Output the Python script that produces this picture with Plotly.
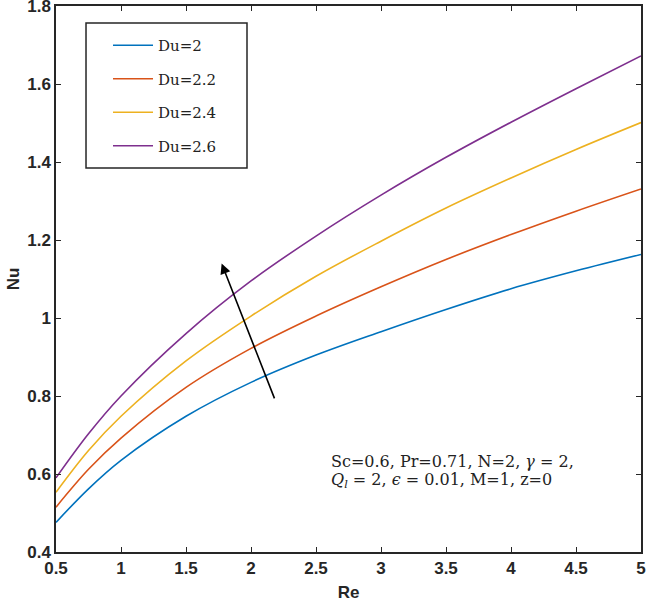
import plotly.graph_objects as go

re_vals = [0.5, 0.75, 1.0, 1.5, 2.0, 2.5, 3.0, 3.5, 4.0, 4.5, 5.0]
nu_du20 = [0.476, 0.562, 0.635, 0.748, 0.835, 0.905, 0.965, 1.022, 1.075, 1.121, 1.163]
nu_du22 = [0.515, 0.612, 0.692, 0.822, 0.922, 1.005, 1.080, 1.150, 1.214, 1.274, 1.331]
nu_du24 = [0.553, 0.660, 0.748, 0.890, 1.005, 1.107, 1.197, 1.282, 1.359, 1.432, 1.501]
nu_du26 = [0.590, 0.703, 0.800, 0.960, 1.095, 1.210, 1.315, 1.412, 1.502, 1.588, 1.672]

series_names = ["Du=2", "Du=2.2", "Du=2.4", "Du=2.6"]
series_colors = ["#0072BD", "#D95319", "#EDB120", "#7E2F8E"]
series_values = [nu_du20, nu_du22, nu_du24, nu_du26]

x_ticks = [0.5, 1, 1.5, 2, 2.5, 3, 3.5, 4, 4.5, 5]
x_tick_text = ["0.5", "1", "1.5", "2", "2.5", "3", "3.5", "4", "4.5", "5"]
y_ticks = [0.4, 0.6, 0.8, 1.0, 1.2, 1.4, 1.6, 1.8]
y_tick_text = ["0.4", "0.6", "0.8", "1", "1.2", "1.4", "1.6", "1.8"]

arrow_tail = (2.185, 0.790)
arrow_head = (1.774, 1.140)

fig = go.Figure()
for i, (name, color, vals) in enumerate(zip(series_names, series_colors, series_values)):
    fig.add_trace(go.Scatter(
        x=re_vals, y=vals, mode="lines", name=name,
        line=dict(color=color, width=1.6, shape="spline", smoothing=1.0),
        legendgroup=f"g{i}",
    ))

fig.add_annotation(
    x=arrow_head[0], y=arrow_head[1], ax=arrow_tail[0], ay=arrow_tail[1],
    xref="x", yref="y", axref="x", ayref="y",
    showarrow=True, arrowhead=2, arrowsize=1.3, arrowwidth=1.6, arrowcolor="black", text="",
)

note_font = dict(family="DejaVu Serif", size=16, color="#222")
fig.add_annotation(
    x=2.6, y=0.632, xref="x", yref="y", xanchor="left", yanchor="middle",
    text="Sc=0.6, Pr=0.71, N=2, <i>γ</i> = 2,",
    showarrow=False, font=note_font,
)
fig.add_annotation(
    x=2.6, y=0.584, xref="x", yref="y", xanchor="left", yanchor="middle",
    text="<i>Q<sub>l</sub></i> = 2, <i>ϵ</i> = 0.01, M=1, z=0",
    showarrow=False, font=note_font,
)

# legend frame
fig.add_shape(type="rect", xref="paper", yref="paper",
              x0=0.0513, x1=0.3265, y0=0.7033, y1=0.9689,
              line=dict(color="#262626", width=1.5), fillcolor="rgba(0,0,0,0)", layer="above")

axis_common = dict(
    showline=True, linecolor="#262626", linewidth=1.5, mirror="allticks",
    ticks="inside", ticklen=5, tickwidth=1.2, tickcolor="#262626",
    showgrid=False, zeroline=False, automargin=False, ticklabeloverflow="allow",
    tickfont=dict(family="Arial", size=17, color="#262626", weight="bold"),
)

fig.update_xaxes(range=[0.5, 5], tickvals=x_ticks, ticktext=x_tick_text,
                 title=dict(text="<b>Re</b>", font=dict(family="Arial", size=17, color="#262626"), standoff=9),
                 **axis_common)
fig.update_yaxes(range=[0.4, 1.8], tickvals=y_ticks, ticktext=y_tick_text,
                 title=dict(text="<b>Nu</b>", font=dict(family="Arial", size=17, color="#262626"), standoff=3),
                 **axis_common)

fig.update_layout(
    width=647, height=604,
    margin=dict(l=56, r=6, t=6, b=52),
    paper_bgcolor="white", plot_bgcolor="white",
    showlegend=True,
    legend=dict(
        x=0.0889, y=0.958, xanchor="left", yanchor="top",
        borderwidth=0, bgcolor="rgba(255,255,255,0)",
        font=dict(family="DejaVu Serif", size=15, color="#222"),
        tracegroupgap=11,
        itemwidth=40,
    ),
)

fig.write_html("out.html", config={"displayModeBar": False},
               post_script="document.body.style.margin='0';")
